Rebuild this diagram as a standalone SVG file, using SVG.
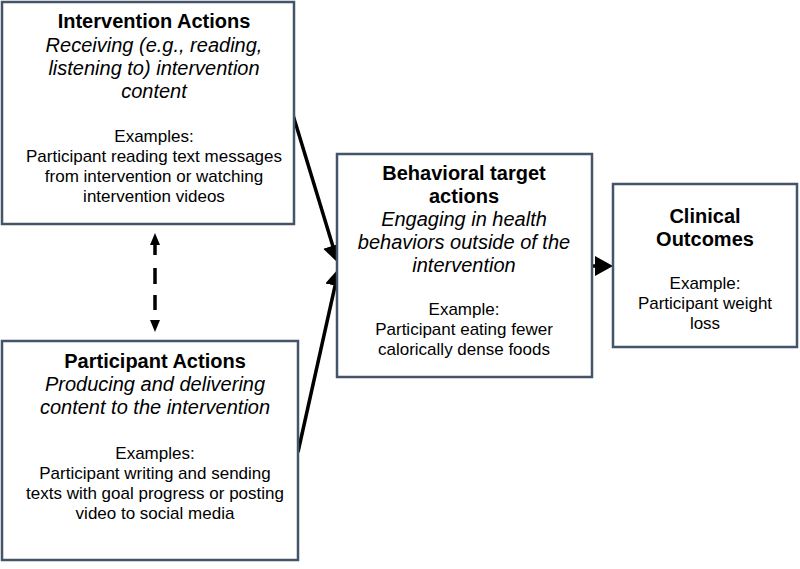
<svg xmlns="http://www.w3.org/2000/svg" width="800" height="569" viewBox="0 0 800 569">
<style>
.box{fill:#fff;stroke:#44546a;stroke-width:2.5}
text{font-family:"Liberation Sans",Arial,sans-serif;fill:#000;text-anchor:middle}
.t{font-size:20px;font-weight:bold}
.i{font-size:20px;font-style:italic}
.b{font-size:17px}
.conn{stroke:#000;fill:none}
</style>
<defs>
<marker id="ah" markerUnits="userSpaceOnUse" markerWidth="20" markerHeight="20" refX="8" refY="10" orient="auto">
<path d="M0,0 L18,10 L0,20 z" fill="#000"/>
</marker>
<marker id="sh" markerUnits="userSpaceOnUse" markerWidth="14" markerHeight="12" refX="1" refY="5" orient="auto-start-reverse">
<path d="M0,0 L12,5 L0,10 z" fill="#000"/>
</marker>
</defs>
<rect width="800" height="569" fill="#fff"/>
<g id="connectors">
<line class="conn" x1="293" y1="115" x2="335.1" y2="253.4" stroke-width="3.5" marker-end="url(#ah)"/>
<line class="conn" x1="298" y1="452" x2="336.8" y2="277.8" stroke-width="3.5" marker-end="url(#ah)"/>
<line class="conn" x1="592" y1="266" x2="603" y2="266" stroke-width="3.5" marker-end="url(#ah)"/>
<line class="conn" x1="155" y1="244" x2="155" y2="321" stroke-width="3.5" stroke-dasharray="11 13 16 11 15 11" marker-start="url(#sh)" marker-end="url(#sh)"/>
</g>
<g id="intervention-actions">
<rect class="box" x="2" y="2" width="292" height="222"/>
<text class="t" x="154" y="28">Intervention Actions</text>
<text class="i" x="154" y="52">Receiving (e.g., reading,</text>
<text class="i" x="154" y="75">listening to) intervention</text>
<text class="i" x="154" y="98">content</text>
<text class="b" x="154" y="142">Examples:</text>
<text class="b" x="154" y="162">Participant reading text messages</text>
<text class="b" x="154" y="182">from intervention or watching</text>
<text class="b" x="154" y="202">intervention videos</text>
</g>
<g id="participant-actions">
<rect class="box" x="2" y="341" width="296" height="219"/>
<text class="t" x="155" y="368">Participant Actions</text>
<text class="i" x="155" y="391">Producing and delivering</text>
<text class="i" x="155" y="414">content to the intervention</text>
<text class="b" x="155" y="459">Examples:</text>
<text class="b" x="155" y="479">Participant writing and sending</text>
<text class="b" x="155" y="499">texts with goal progress or posting</text>
<text class="b" x="155" y="519">video to social media</text>
</g>
<g id="behavioral-target-actions">
<rect class="box" x="337" y="154" width="255" height="223"/>
<text class="t" x="464" y="180">Behavioral target</text>
<text class="t" x="464" y="203">actions</text>
<text class="i" x="464" y="226">Engaging in health</text>
<text class="i" x="464" y="249">behaviors outside of the</text>
<text class="i" x="464" y="272">intervention</text>
<text class="b" x="464" y="315">Example:</text>
<text class="b" x="464" y="335">Participant eating fewer</text>
<text class="b" x="464" y="355">calorically dense foods</text>
</g>
<g id="clinical-outcomes">
<rect class="box" x="613" y="184" width="184" height="163"/>
<text class="t" x="705" y="223">Clinical</text>
<text class="t" x="705" y="246">Outcomes</text>
<text class="b" x="705" y="289">Example:</text>
<text class="b" x="705" y="309">Participant weight</text>
<text class="b" x="705" y="329">loss</text>
</g>
</svg>
